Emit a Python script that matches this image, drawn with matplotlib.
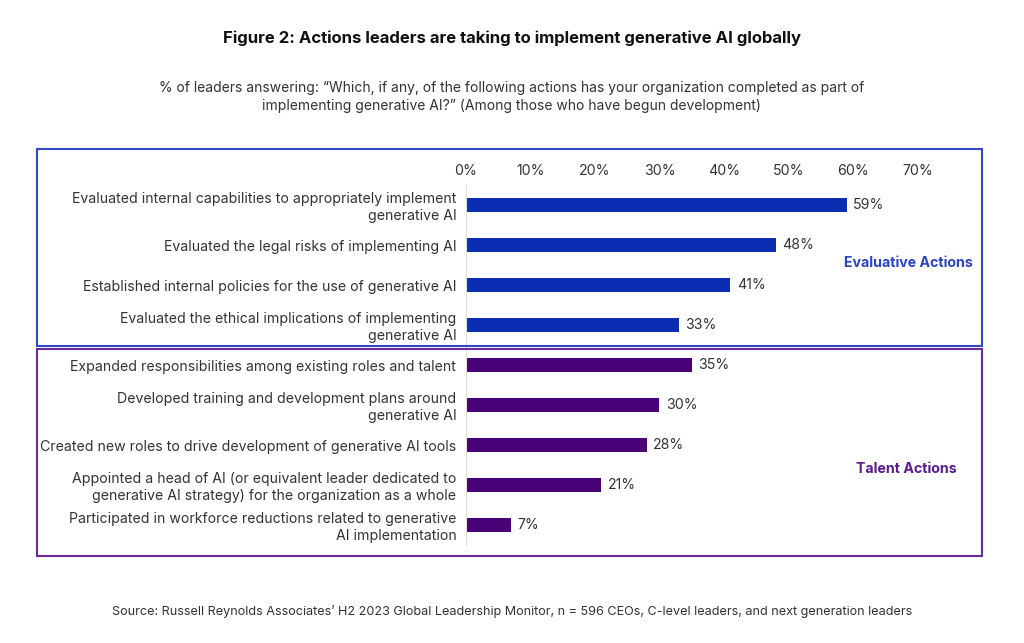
import matplotlib
matplotlib.use("Agg")
import matplotlib.pyplot as plt
from matplotlib.patches import Rectangle

plt.rcParams['font.family'] = ['Inter', 'DejaVu Sans']

# данные
labels = [
    "Evaluated internal capabilities to appropriately implement\ngenerative AI",
    "Evaluated the legal risks of implementing AI",
    "Established internal policies for the use of generative AI",
    "Evaluated the ethical implications of implementing\ngenerative AI",
    "Expanded responsibilities among existing roles and talent",
    "Developed training and development plans around\ngenerative AI",
    "Created new roles to drive development of generative AI tools",
    "Appointed a head of AI (or equivalent leader dedicated to\ngenerative AI strategy) for the organization as a whole",
    "Participated in workforce reductions related to generative\nAI implementation",
]
values = [59, 48, 41, 33, 35, 30, 28, 21, 7]
groups = ["eval"] * 4 + ["talent"] * 5
ticks = [0, 10, 20, 30, 40, 50, 60, 70]

blue = "#0B2DB3"
purple = "#4A0077"
colors = [blue if g == "eval" else purple for g in groups]

fig = plt.figure(figsize=(10.24, 6.43), dpi=100)
ax = fig.add_axes([466 / 1024, 1 - 545 / 643, (980 - 466) / 1024, 360 / 643])

y = list(range(len(values)))
ax.barh(y, values, height=0.36, color=colors)
for yi, v in zip(y, values):
    ax.text(v + 1.0, yi, f"{v}%", va="center", ha="left", fontsize=10.2, color="#333333")

ax.set_xlim(0, 79.7)
ax.set_ylim(len(values) - 0.5, -0.5)
ax.set_yticks(y)
ax.set_yticklabels(labels, fontsize=10.15, color="#333333")
ax.tick_params(axis="y", length=0, pad=7)
ax.xaxis.tick_top()
ax.set_xticks(ticks)
ax.set_xticklabels([f"{t}%" for t in ticks], fontsize=10.2, color="#333333")
ax.tick_params(axis="x", length=0, pad=5)
for lbl in ax.get_yticklabels():
    lbl.set_horizontalalignment("right")
    lbl.set_multialignment("right")
for s in ["top", "right", "bottom"]:
    ax.spines[s].set_visible(False)
ax.spines["left"].set_color("#dddddd")
ax.spines["left"].set_linewidth(0.8)

# рамки групп
def box(x0, y0, x1, y1, col):
    fig.patches.append(Rectangle((x0 / 1024, 1 - y1 / 643), (x1 - x0) / 1024, (y1 - y0) / 643,
                                 transform=fig.transFigure, fill=False, edgecolor=col, linewidth=1.5))

box(37, 149, 982, 346, "#3447C4")
box(37, 349, 982, 556, "#6B2C9C")

fig.text(908 / 1024, 1 - 263 / 643, "Evaluative Actions", ha="center", va="center",
         fontsize=10.2, fontweight="bold", color="#2A44C2")
fig.text(906 / 1024, 1 - 469 / 643, "Talent Actions", ha="center", va="center",
         fontsize=10.2, fontweight="bold", color="#5A1A8A")

fig.text(0.5, 1 - 38 / 643, "Figure 2: Actions leaders are taking to implement generative AI globally",
         ha="center", va="center", fontsize=12, fontweight="bold", color="#111111")
fig.text(0.5, 1 - 97 / 643,
         "% of leaders answering: \u201cWhich, if any, of the following actions has your organization completed as part of\n"
         "implementing generative AI?\u201d (Among those who have begun development)",
         ha="center", va="center", fontsize=10, color="#333333", linespacing=1.3)
fig.text(0.5, 1 - 611 / 643,
         "Source: Russell Reynolds Associates\u2019 H2 2023 Global Leadership Monitor, n = 596 CEOs, C-level leaders, and next generation leaders",
         ha="center", va="center", fontsize=9.1, color="#333333")

fig.savefig("out.png", dpi=100)
